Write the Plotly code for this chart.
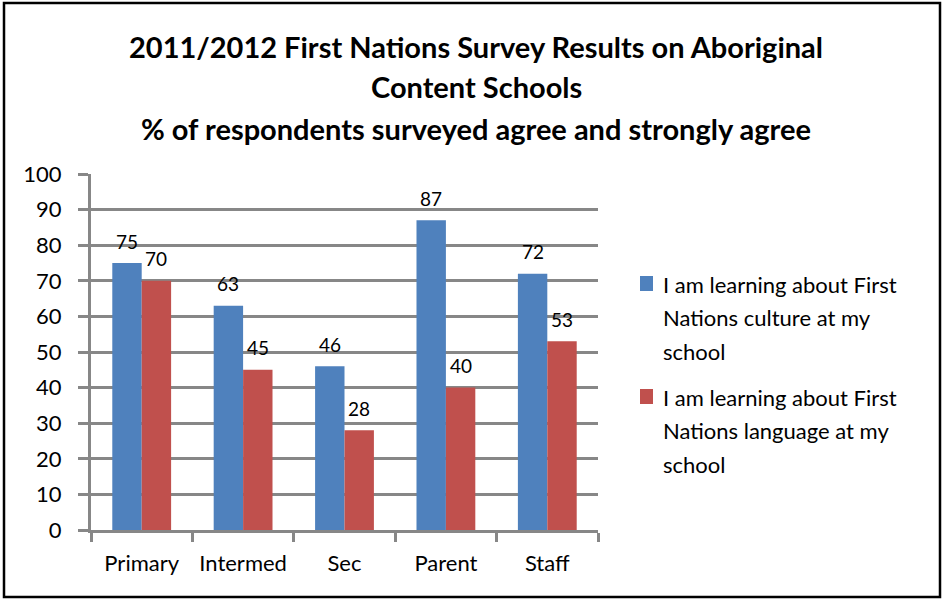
import plotly.graph_objects as go

# ---- data ----
categories = ["Primary", "Intermed", "Sec", "Parent", "Staff"]
culture = [75, 63, 46, 87, 72]
language = [70, 45, 28, 40, 53]
series_names = [
    "I am learning about First Nations culture at my school",
    "I am learning about First Nations language at my school",
]
legend_lines = [
    ["I am learning about First", "Nations culture at my", "school"],
    ["I am learning about First", "Nations language at my", "school"],
]
y_ticks = list(range(0, 101, 10))
title_lines = [
    "2011/2012 First Nations Survey Results on Aboriginal",
    "Content Schools",
    "% of respondents surveyed agree and strongly agree",
]

# ---- styling ----
W, H = 945, 601
L, R, T, B = 91, 347, 174, 71          # plot margins in px
PW, PH = W - L - R, H - T - B
BLUE, RED = "#4F81BD", "#C0504D"
GRID = "#878787"
FONT = "Lato"


def px_x(x):
    return (x - L) / PW


def px_y(y):
    return (H - B - y) / PH


bar_w = 0.29
fig = go.Figure()
fig.add_trace(go.Bar(x=categories, y=culture, name=series_names[0],
                     marker=dict(color=BLUE, line=dict(width=0)),
                     width=bar_w, offset=-bar_w))
fig.add_trace(go.Bar(x=categories, y=language, name=series_names[1],
                     marker=dict(color=RED, line=dict(width=0)),
                     width=bar_w, offset=0))

annotations = []
# value labels above each bar
for i, (c, lang) in enumerate(zip(culture, language)):
    for val, dx in ((c, -bar_w / 2), (lang, bar_w / 2)):
        annotations.append(dict(x=i + dx, y=val, xref="x", yref="y",
                                text=str(val), showarrow=False,
                                yanchor="middle", yshift=22,
                                font=dict(family=FONT, size=19, color="black")))

# title lines
for text, ypx in zip(title_lines, [46, 87, 128]):
    annotations.append(dict(x=px_x(476), y=px_y(ypx), xref="paper", yref="paper",
                            text=f"<b>{text}</b>", showarrow=False,
                            xanchor="center", yanchor="middle",
                            font=dict(family=FONT, size=29, color="black")))

# legend
shapes = []
for k, (lines, col, top) in enumerate(zip(legend_lines, [BLUE, RED], [284, 397])):
    shapes.append(dict(type="rect", xref="paper", yref="paper",
                       x0=px_x(640), x1=px_x(653),
                       y0=px_y(top + 7), y1=px_y(top - 8),
                       fillcolor=col, line=dict(width=0)))
    for j, line in enumerate(lines):
        annotations.append(dict(x=px_x(661), y=px_y(top + 33.5 * j),
                                xref="paper", yref="paper", text=line,
                                showarrow=False, xanchor="left", yanchor="middle",
                                font=dict(family=FONT, size=22, color="black")))

# chart border
shapes.append(dict(type="rect", xref="paper", yref="paper",
                   x0=px_x(4), x1=px_x(940), y0=px_y(597), y1=px_y(3),
                   line=dict(color="black", width=2.5), fillcolor="rgba(0,0,0,0)",
                   layer="above"))

fig.update_layout(
    width=W, height=H,
    margin=dict(l=L, r=R, t=T, b=B, pad=0),
    paper_bgcolor="white", plot_bgcolor="white",
    showlegend=False,
    barmode="overlay",
    font=dict(family=FONT, size=22, color="black"),
    annotations=annotations,
    shapes=shapes,
)
fig.update_xaxes(
    type="category", tickson="boundaries",
    ticks="outside", ticklen=9, tickwidth=3, tickcolor=GRID,
    showline=True, linewidth=3, linecolor=GRID,
    showgrid=False, tickfont=dict(family=FONT, size=22, color="black"),
    ticklabelstandoff=12,
    range=[-0.5, len(categories) - 0.5],
)
fig.update_yaxes(
    range=[0, 100], tickvals=y_ticks,
    ticks="outside", ticklen=10, tickwidth=3, tickcolor=GRID,
    showline=True, linewidth=3, linecolor=GRID,
    showgrid=True, gridwidth=3, gridcolor=GRID,
    zeroline=False,
    tickfont=dict(family=FONT, size=22, color="black"),
    ticklabelstandoff=12,
)

fig.write_html("out.html")
